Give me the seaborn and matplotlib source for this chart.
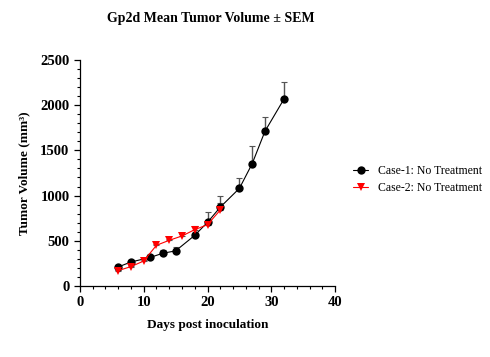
import matplotlib
matplotlib.use("Agg")
import matplotlib.pyplot as plt
from matplotlib.ticker import MultipleLocator
import seaborn as sns
import pandas as pd
import numpy as np

# data
case1_days = [6, 8, 11, 13, 15, 18, 20, 22, 25, 27, 29, 32]
case1_mean = [210, 265, 315, 362, 388, 560, 704, 872, 1080, 1353, 1711, 2070]
case1_sem = [15, 15, 15, 35, 45, 30, 118, 118, 118, 190, 162, 190]

case2_days = [6, 8, 10, 12, 14, 16, 18, 20, 22]
case2_mean = [170, 214, 276, 450, 505, 553, 623, 678, 840]
case2_sem = [10, 12, 15, 15, 15, 18, 40, 20, 80]

labels = ["Case-1: No Treatment", "Case-2: No Treatment"]

df1 = pd.DataFrame({"Day": case1_days, "Volume": case1_mean, "SEM": case1_sem, "Group": labels[0]})
df2 = pd.DataFrame({"Day": case2_days, "Volume": case2_mean, "SEM": case2_sem, "Group": labels[1]})
df = pd.concat([df1, df2], ignore_index=True)

sns.set_theme(style="ticks")
plt.rcParams["font.family"] = ["Liberation Serif", "DejaVu Serif"]
plt.rcParams["text.color"] = "black"
plt.rcParams["axes.labelcolor"] = "black"
plt.rcParams["xtick.color"] = "black"
plt.rcParams["ytick.color"] = "black"
plt.rcParams["axes.edgecolor"] = "black"

fig = plt.figure(figsize=(4.9, 3.57), dpi=100)
ax = fig.add_axes([0.163, 0.199, 0.521, 0.633])

# one-sided (upward) SEM bars
for g, sub in df.groupby("Group", sort=False):
    ax.errorbar(sub["Day"], sub["Volume"], yerr=[np.zeros(len(sub)), sub["SEM"]],
                fmt="none", ecolor="#555555", elinewidth=1.0, capsize=2.5, capthick=0.8, zorder=1)

sns.lineplot(data=df, x="Day", y="Volume", hue="Group", style="Group",
             palette=["black", "red"], markers=["o", "v"], dashes=False,
             markersize=6, markeredgewidth=0, linewidth=0.8, ax=ax, zorder=3)

ax.set_xlim(0, 40)
ax.set_ylim(0, 2500)
ax.xaxis.set_major_locator(MultipleLocator(10))
ax.xaxis.set_minor_locator(MultipleLocator(2))
ax.yaxis.set_major_locator(MultipleLocator(500))
ax.yaxis.set_minor_locator(MultipleLocator(100))
ax.tick_params(which="major", length=4, width=0.9, labelsize=10.5)
ax.tick_params(which="minor", length=2.5, width=0.8)
for lab in ax.get_xticklabels() + ax.get_yticklabels():
    lab.set_fontweight("bold")
sns.despine(ax=ax)
for s in ["left", "bottom"]:
    ax.spines[s].set_linewidth(0.9)

ax.set_xlabel("Days post inoculation", fontsize=9.5, fontweight="bold", labelpad=7)
ax.set_ylabel("Tumor Volume (mm³)", fontsize=9.5, fontweight="bold", labelpad=7)
fig.suptitle("Gp2d Mean Tumor Volume ± SEM", x=0.43, y=0.965, fontsize=10, fontweight="bold")

leg = ax.legend(loc="center left", bbox_to_anchor=(1.03, 0.47), frameon=False,
                fontsize=8.5, handlelength=1.2, handletextpad=0.85, labelspacing=0.4)
leg.set_title(None)

fig.savefig("out.png", dpi=100)
